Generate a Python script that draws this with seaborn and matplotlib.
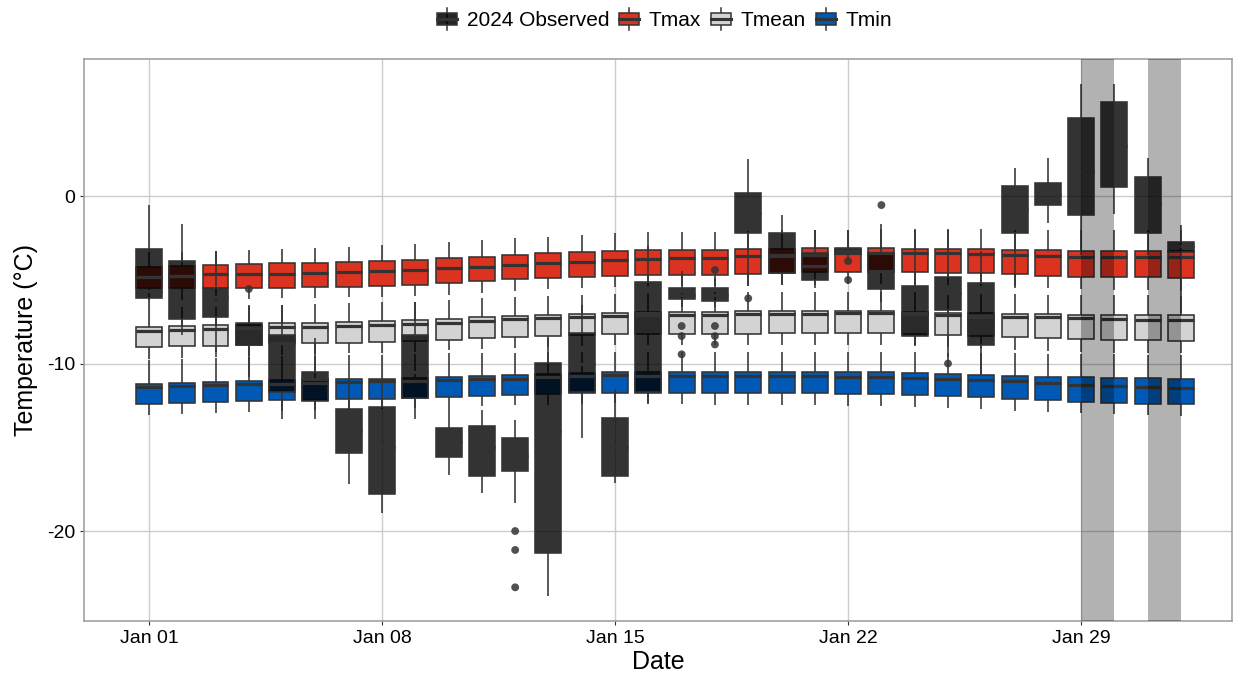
import numpy as np
import pandas as pd
import matplotlib
matplotlib.use('Agg')
from matplotlib import pyplot as plt
from matplotlib.legend_handler import HandlerBase
from matplotlib.patches import Rectangle, Patch
from matplotlib.lines import Line2D
import seaborn as sb

'''
Daily temperature boxplots: climatology (Tmax, Tmean, Tmin) vs 2024 observed
'''

# days: Jan 01 .. Feb 01
dates = pd.date_range('2024-01-01', periods=32)
days = list(range(1, 33))
tick_days = [1, 8, 15, 22, 29]
shade_spans = [(29, 30), (31, 32)]

# Tmax
tmax_hi = [-3.35,-3.32,-3.28,-3.24,-3.18,-3.12,-3.05,-2.94,-2.85,-2.73,-2.65,-2.53,-2.43,-2.33,-2.23,-2.17,
           -2.17,-2.15,-2.10,-2.05,-2.03,-2.00,-1.98,-1.97,-1.97,-1.99,-2.00,-2.00,-2.00,-2.00,-2.00,-2.00]
tmax_q3 = [-4.22,-4.17,-4.12,-4.07,-4.02,-3.97,-3.92,-3.86,-3.80,-3.72,-3.62,-3.52,-3.42,-3.35,-3.28,-3.22,
           -3.22,-3.20,-3.18,-3.15,-3.12,-3.08,-3.10,-3.14,-3.16,-3.18,-3.20,-3.22,-3.26,-3.27,-3.28,-3.30]
tmax_med = [-4.82,-4.76,-4.68,-4.66,-4.64,-4.60,-4.52,-4.48,-4.42,-4.32,-4.22,-4.12,-4.02,-3.94,-3.82,-3.78,
            -3.70,-3.68,-3.60,-3.56,-3.50,-3.42,-3.42,-3.42,-3.42,-3.46,-3.52,-3.56,-3.62,-3.62,-3.62,-3.62]
tmax_q1 = [-5.51,-5.51,-5.51,-5.50,-5.49,-5.46,-5.41,-5.37,-5.30,-5.17,-5.07,-4.97,-4.87,-4.82,-4.78,-4.72,
           -4.74,-4.72,-4.64,-4.60,-4.56,-4.52,-4.54,-4.56,-4.58,-4.62,-4.66,-4.76,-4.82,-4.84,-4.86,-4.88]
tmax_lo = [-6.20,-6.20,-6.20,-6.15,-6.10,-6.10,-6.05,-6.00,-5.95,-5.90,-5.80,-5.65,-5.55,-5.50,-5.45,-5.40,
           -5.40,-5.40,-5.35,-5.30,-5.30,-5.25,-5.25,-5.30,-5.30,-5.35,-5.40,-5.50,-5.55,-5.60,-5.60,-5.65]

# Tmean
tmean_hi = [-6.70,-6.65,-6.60,-6.55,-6.50,-6.45,-6.40,-6.35,-6.30,-6.20,-6.10,-6.00,-5.95,-5.90,-5.85,-5.80,
            -5.78,-5.75,-5.72,-5.70,-5.70,-5.70,-5.70,-5.72,-5.78,-5.82,-5.86,-5.90,-5.90,-5.92,-5.92,-5.94]
tmean_q3 = [-7.80,-7.76,-7.72,-7.68,-7.60,-7.56,-7.52,-7.46,-7.40,-7.32,-7.24,-7.14,-7.08,-7.02,-6.96,-6.94,
            -6.92,-6.90,-6.88,-6.87,-6.87,-6.87,-6.87,-6.90,-6.96,-7.00,-7.04,-7.06,-7.08,-7.08,-7.10,-7.10]
tmean_med = [-8.03,-7.98,-7.94,-7.90,-7.84,-7.80,-7.75,-7.70,-7.64,-7.56,-7.44,-7.36,-7.30,-7.22,-7.16,-7.12,
             -7.10,-7.08,-7.05,-7.04,-7.02,-7.00,-7.00,-7.05,-7.10,-7.15,-7.20,-7.25,-7.30,-7.35,-7.40,-7.42]
tmean_q1 = [-9.03,-8.98,-8.93,-8.90,-8.80,-8.78,-8.76,-8.73,-8.66,-8.58,-8.50,-8.43,-8.36,-8.30,-8.24,-8.24,
            -8.24,-8.24,-8.22,-8.20,-8.20,-8.20,-8.20,-8.24,-8.30,-8.36,-8.44,-8.50,-8.56,-8.60,-8.62,-8.64]
tmean_lo = [-9.70,-9.65,-9.60,-9.55,-9.50,-9.45,-9.40,-9.35,-9.30,-9.20,-9.12,-9.05,-9.00,-8.95,-8.92,-8.90,
            -8.90,-8.90,-8.90,-8.90,-8.90,-8.90,-8.90,-8.95,-9.00,-9.10,-9.19,-9.25,-9.30,-9.35,-9.38,-9.40]

# Tmin
tmin_hi = [-9.79,-9.72,-9.68,-9.62,-9.58,-9.55,-9.52,-9.48,-9.45,-9.40,-9.38,-9.35,-9.33,-9.31,-9.30,-9.30,
           -9.30,-9.29,-9.29,-9.29,-9.29,-9.30,-9.30,-9.32,-9.35,-9.38,-9.40,-9.42,-9.44,-9.46,-9.48,-9.49]
tmin_q3 = [-11.22,-11.15,-11.08,-11.02,-10.99,-10.95,-10.92,-10.90,-10.85,-10.80,-10.75,-10.67,-10.60,-10.55,-10.49,-10.49,
           -10.49,-10.50,-10.50,-10.50,-10.50,-10.52,-10.53,-10.56,-10.60,-10.68,-10.75,-10.78,-10.80,-10.84,-10.87,-10.90]
tmin_med = [-11.42,-11.35,-11.28,-11.24,-11.20,-11.15,-11.10,-11.07,-11.02,-10.98,-10.95,-10.90,-10.82,-10.76,-10.70,-10.72,
            -10.74,-10.76,-10.77,-10.77,-10.77,-10.78,-10.79,-10.85,-10.95,-11.00,-11.04,-11.15,-11.28,-11.35,-11.42,-11.48]
tmin_q1 = [-12.42,-12.35,-12.28,-12.22,-12.18,-12.15,-12.12,-12.10,-12.05,-12.00,-11.94,-11.90,-11.84,-11.78,-11.74,-11.74,
           -11.75,-11.76,-11.76,-11.76,-11.78,-11.79,-11.80,-11.86,-11.94,-12.02,-12.14,-12.20,-12.28,-12.34,-12.40,-12.44]
tmin_lo = [-13.07,-13.00,-12.95,-12.90,-12.85,-12.80,-12.75,-12.70,-12.65,-12.60,-12.55,-12.50,-12.45,-12.40,-12.38,-12.40,
           -12.42,-12.45,-12.46,-12.48,-12.50,-12.52,-12.55,-12.60,-12.66,-12.74,-12.82,-12.90,-12.98,-13.04,-13.10,-13.13]

# 2024 observed
obs_hi = [-0.54,-1.67,-3.30,-6.50,-6.50,-8.50,-11.00,-11.00,-6.30,-12.60,-12.80,-13.37,-8.50,-6.50,-11.50,-3.00,
          -4.50,-4.90,2.21,-1.13,-2.03,-2.03,-1.67,-2.00,-2.00,-3.30,1.65,2.25,6.69,6.69,2.25,-1.75]
obs_q3 = [-3.16,-3.86,-5.51,-7.60,-8.30,-10.53,-12.74,-12.62,-8.30,-13.87,-13.73,-14.43,-9.99,-8.20,-13.27,-5.12,
          -5.51,-5.47,0.20,-2.19,-3.42,-3.18,-3.42,-5.37,-4.82,-5.22,0.60,0.76,4.64,5.59,1.15,-2.73]
obs_med = [-5.65,-4.76,-6.00,-7.86,-8.80,-10.95,-14.00,-15.00,-10.50,-14.70,-15.00,-15.50,-14.00,-10.00,-15.00,-7.00,
           -5.90,-5.90,-1.00,-3.50,-4.20,-3.30,-4.50,-7.00,-5.80,-7.20,-0.80,0.10,1.50,3.00,-0.50,-3.00]
obs_q1 = [-6.11,-7.36,-7.20,-8.90,-11.68,-12.22,-15.32,-17.79,-12.08,-15.56,-16.70,-16.42,-21.30,-11.68,-16.70,-11.68,
          -6.17,-6.27,-2.23,-4.62,-5.01,-3.46,-5.55,-8.34,-6.81,-8.90,-2.23,-0.54,-1.13,0.56,-2.23,-3.35]
obs_lo = [-6.70,-8.30,-9.30,-10.80,-13.30,-13.30,-17.20,-18.90,-13.33,-16.66,-17.75,-18.31,-23.88,-14.43,-17.15,-12.38,
          -6.60,-6.60,-5.40,-5.31,-5.50,-3.70,-6.30,-8.90,-9.60,-10.60,-5.50,-1.63,-3.50,-1.07,-3.50,-7.00]

# observed outliers
out_day = [4, 12, 12, 12, 17, 17, 17, 18, 18, 18, 18, 19, 22, 22, 23, 25]
out_temp = [-5.55, -20.0, -21.13, -23.36, -7.76, -8.36, -9.45, -4.42, -7.76, -8.36, -8.86, -6.11,
            -3.88, -5.01, -0.54, -10.0]

series_names = ['2024 Observed', 'Tmax', 'Tmean', 'Tmin']
series_colors = ['#000000', '#DC3220', '#D3D3D3', '#005AB5']
line_col = '#333333'


def long_df(lo, q1, med, q3, hi):
    # five points per day -> quartiles fall exactly on q1/med/q3
    rows = []
    for i, d in enumerate(days):
        for v in (lo[i], q1[i], med[i], q3[i], hi[i]):
            rows.append({'day': d, 'temp': v})
    return pd.DataFrame(rows)


class BoxKey(HandlerBase):
    # small boxplot glyph for the legend keys
    def create_artists(self, legend, orig_handle, xdescent, ydescent, width, height, fontsize, trans):
        fc = orig_handle.get_facecolor()
        cx = width / 2 - xdescent
        bw = height * 1.35
        by0 = -ydescent + height * 0.1
        bh = height * 0.8
        whisk = Line2D([cx, cx], [-ydescent - height * 0.25, -ydescent + height * 1.25],
                       color=line_col, lw=1.1, transform=trans)
        rect = Rectangle((cx - bw / 2, by0), bw, bh, facecolor=fc, edgecolor=line_col, lw=1.1, transform=trans)
        med = Line2D([cx - bw / 2, cx + bw / 2], [by0 + bh / 2] * 2, color=line_col, lw=2.2, transform=trans)
        return [whisk, rect, med]


def temp_plot():
    plt.rcParams['font.family'] = ['Liberation Sans', 'DejaVu Sans']
    plt.rcParams['axes.unicode_minus'] = False
    fig = plt.figure(figsize=(12.35, 6.73), dpi=100)
    ax = fig.add_axes([84 / 1235, 52 / 673, (1232 - 84) / 1235, (621 - 59) / 673])

    clim = [
        (tmax_lo, tmax_q1, tmax_med, tmax_q3, tmax_hi),
        (tmean_lo, tmean_q1, tmean_med, tmean_q3, tmean_hi),
        (tmin_lo, tmin_q1, tmin_med, tmin_q3, tmin_hi),
    ]
    common = dict(x='day', y='temp', native_scale=True, width=0.78, whis=(0, 100), showfliers=False,
                  linecolor=line_col, linewidth=1.15, ax=ax,
                  medianprops=dict(linewidth=2.3, color=line_col),
                  capprops=dict(linewidth=0))
    for stats, col in zip(clim, series_colors[1:]):
        sb.boxplot(data=long_df(*stats), color=col, saturation=1, **common)

    # observed on top, semi-transparent black
    sb.boxplot(data=long_df(obs_lo, obs_q1, obs_med, obs_q3, obs_hi), color='black', saturation=1,
               boxprops=dict(facecolor=(0, 0, 0, 0.8)), **common)
    sb.scatterplot(x=out_day, y=out_temp, color=line_col, alpha=0.85, s=32, edgecolor='none', ax=ax, zorder=5)

    for a, b in shade_spans:
        ax.axvspan(a, b, color='black', alpha=0.3, lw=0, zorder=6)

    ax.set_xlim(-0.95, 33.53)
    ax.set_ylim(-25.37, 8.18)
    ax.set_xticks(tick_days)
    ax.set_xticklabels([dates[d - 1].strftime('%b %d') for d in tick_days])
    ax.set_yticks([0, -10, -20])
    ax.set_yticklabels(['0', '-10', '-20'])
    ax.grid(True, color='#cccccc', lw=1.0)
    ax.set_axisbelow(True)
    for s in ax.spines.values():
        s.set_color('#9a9a9a')
        s.set_linewidth(1.1)
    ax.tick_params(labelsize=14, colors=line_col, length=3, width=0.8, labelcolor='black')
    ax.set_xlabel('Date', fontsize=18, labelpad=2)
    ax.set_ylabel('Temperature (°C)', fontsize=18, labelpad=6)

    handles = [Patch(facecolor=(0, 0, 0, 0.85) if c == '#000000' else c) for c in series_colors]
    fig.legend(handles, series_names, handler_map={Patch: BoxKey()}, loc='center',
               bbox_to_anchor=(0.537, 1 - 21 / 673), ncol=4, frameon=False, fontsize=15,
               handlelength=1.2, handletextpad=0.35, columnspacing=0.35)
    fig.savefig('out.png', dpi=100)
    return fig, ax


if __name__ == "__main__":
    temp_plot()
